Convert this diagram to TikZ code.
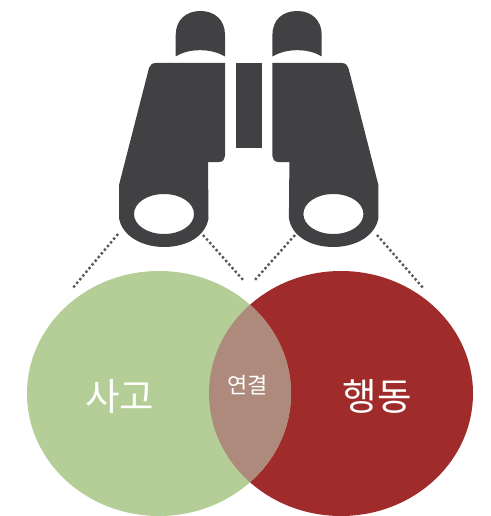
\documentclass[tikz,border=0pt]{standalone}
\usepackage{fontspec}
\newfontfamily\krfont{Noto Sans CJK KR}
\usetikzlibrary{shapes.geometric}
\definecolor{bino}{HTML}{414042}
\definecolor{greenc}{HTML}{B5CE98}
\definecolor{redc}{HTML}{A02B2B}
\definecolor{overlapc}{HTML}{AE8A7C}
\definecolor{dotc}{HTML}{595959}
\tikzset{
  binoshape/.style={fill=bino,draw=none},
  dotline/.style={draw=dotc,line width=2.4pt,dash pattern=on 2.4pt off 2.4pt},
  bigc/.style={ellipse,minimum width=264pt,minimum height=245pt,inner sep=0pt,draw=none},
  biglabel/.style={text=white,font=\krfont\fontsize{37.5}{40}\selectfont,inner sep=0pt},
  smalllabel/.style={text=white,font=\krfont\fontsize{22}{24}\selectfont,inner sep=0pt}
}
\newcommand{\halfbino}{%
    \fill[binoshape] (175.7,56.5) -- (175.7,35) .. controls (175.7,20) and (186,11) .. (200.3,11)
      .. controls (215,11) and (225,20) .. (225,35) -- (225,56.5)
      .. controls (217,52) and (209,50.2) .. (200.3,50.2) .. controls (191,50.2) and (183,52) .. (175.7,56.5) -- cycle;
    \fill[binoshape,even odd rule] (225,63) -- (156,63) .. controls (152,63) and (150,65) .. (149,68)
      -- (119,185) -- (119,218) .. controls (122,236) and (142,247) .. (164,247)
      .. controls (187,247) and (206,236) .. (208.5,218) -- (208,162) -- (219,162)
      .. controls (223,162) and (225,159) .. (225,156) -- cycle
      (194,214) .. controls (194,225) and (181,234) .. (164,234) .. controls (147,234) and (134,225) .. (134,214)
      .. controls (134,203) and (147,194) .. (164,194) .. controls (181,194) and (194,203) .. (194,214) -- cycle;
}
\begin{document}
\begin{tikzpicture}[x=1pt,y=-1pt]
\useasboundingbox (0,0) rectangle (490,516);
% binoculars
\halfbino
\begin{scope}[cm={-1,0,0,1,(497.4pt,0pt)}]
\halfbino
\end{scope}
\fill[binoshape] (236,63) rectangle (262,147.7);
% circles
\node[bigc,fill=redc] (act) at (341,393.5) {};
\node[bigc,fill=greenc] (think) at (159,393.5) {};
\begin{scope}
\clip (159,393.5) ellipse [x radius=132,y radius=122.5];
\fill[overlapc] (341,393.5) ellipse [x radius=132,y radius=122.5];
\end{scope}
% labels
\node[biglabel] (l1) at (119.5,396) {사고};
\node[biglabel] (l2) at (377,396) {행동};
\node[smalllabel] (l3) at (247.5,385) {연결};
% dotted lines
\coordinate (a1) at (118,234); \coordinate (a2) at (72,289);
\coordinate (b1) at (203,235); \coordinate (b2) at (244,281);
\coordinate (c1) at (295,235); \coordinate (c2) at (254,281);
\coordinate (d1) at (377,235); \coordinate (d2) at (424,289);
\draw[dotline] (a1) -- (a2);
\draw[dotline] (b1) -- (b2);
\draw[dotline] (c1) -- (c2);
\draw[dotline] (d1) -- (d2);
\end{tikzpicture}
\end{document}
